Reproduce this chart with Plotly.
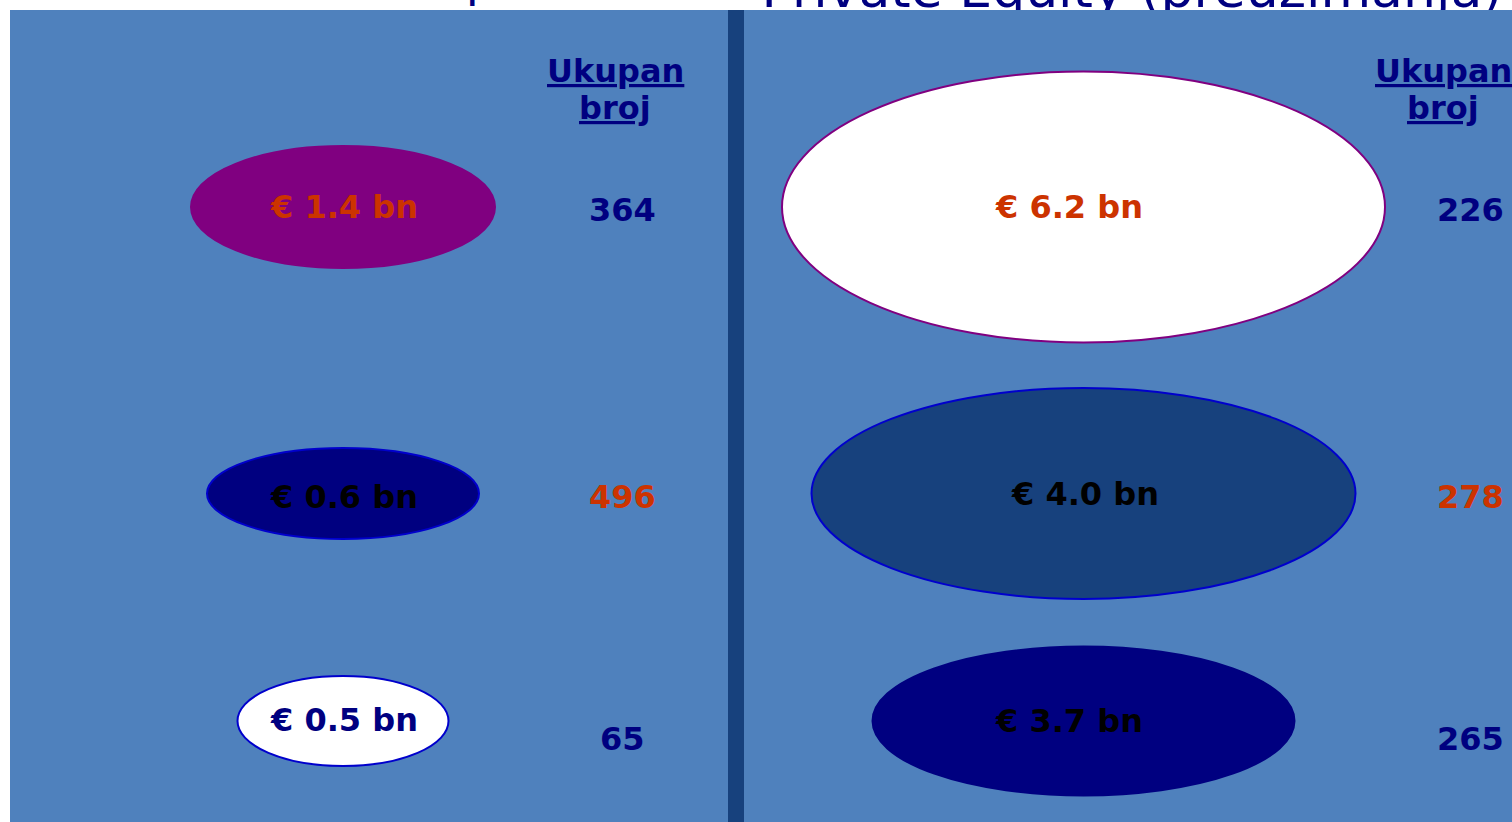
import plotly.graph_objects as go

# Transaction value (EUR bn) and number of deals, three groups from top to bottom
vc_value_bn = [1.4, 0.6, 0.5]
pe_value_bn = [6.2, 4.0, 3.7]
vc_deals = [364, 496, 65]
pe_deals = [226, 278, 265]
panel_titles = ["Venture Capital", "Private Equity (preuzimanja)"]
count_header = ["Ukupan", "broj"]

# ---- layout (page pixel units) ----
W, H = 1512, 822
BG_BLUE = "#4F81BD"
DARK_BLUE = "#17417D"
NAVY = "#000080"
ORANGE = "#CC3300"
PURPLE = "#800080"
BRIGHT_BLUE = "#0000CC"
FONT = "DejaVu Sans"

row_y = [207, 493.5, 721]
panel_cx = [343, 1083.5]
ell_w = [[304, 272, 211], [603, 544, 422]]
ell_h = [[122, 91, 90], [271, 211, 149]]
ell_fill = [[PURPLE, NAVY, "white"], ["white", DARK_BLUE, NAVY]]
ell_line = [[PURPLE, BRIGHT_BLUE, BRIGHT_BLUE], [PURPLE, BRIGHT_BLUE, NAVY]]
label_x = [[344, 344, 344], [1069, 1085, 1069]]
label_y = [[207, 497, 720], [207, 494, 721]]
label_color = [[ORANGE, "black", NAVY], [ORANGE, "black", "black"]]
count_x = [622, 1470]
count_y = [210, 497, 739]
count_color = [[NAVY, ORANGE, NAVY], [NAVY, ORANGE, NAVY]]
header_x = [615, 1443]
header_line_y = [71, 108]
title_x = [386, 1132]
title_y = [8, 20]
title_size = [48, 52]

values = [vc_value_bn, pe_value_bn]
deals = [vc_deals, pe_deals]

fig = go.Figure()

# Panel titles sit above the blue area; the blue band is drawn over them
for t in range(2):
    fig.add_trace(go.Scatter(
        x=[title_x[t]], y=[title_y[t]], mode="text", text=[panel_titles[t]],
        textposition="top center", cliponaxis=False, hoverinfo="skip",
        textfont=dict(family=FONT, size=title_size[t], color=NAVY),
        showlegend=False,
    ))

shapes = [
    dict(type="rect", xref="x", yref="y", x0=10, x1=W, y0=10, y1=H,
         fillcolor=BG_BLUE, line=dict(width=0), layer="above"),
    dict(type="rect", xref="x", yref="y", x0=728, x1=744, y0=10, y1=H,
         fillcolor=DARK_BLUE, line=dict(width=0), layer="above"),
]
annotations = []

for p in range(2):
    for r in range(3):
        cx, cy = panel_cx[p], row_y[r]
        w, h = ell_w[p][r], ell_h[p][r]
        shapes.append(dict(
            type="circle", xref="x", yref="y",
            x0=cx - w / 2, x1=cx + w / 2, y0=cy - h / 2, y1=cy + h / 2,
            fillcolor=ell_fill[p][r], line=dict(color=ell_line[p][r], width=2),
            layer="above",
        ))
        annotations.append(dict(
            x=label_x[p][r], y=label_y[p][r], xref="x", yref="y",
            text=f"<b>€ {values[p][r]:.1f} bn</b>", showarrow=False,
            xanchor="center", yanchor="middle",
            font=dict(family=FONT, size=32, color=label_color[p][r]),
        ))
        annotations.append(dict(
            x=count_x[p], y=count_y[r], xref="x", yref="y",
            text=f"<b>{deals[p][r]}</b>", showarrow=False,
            xanchor="center", yanchor="middle",
            font=dict(family=FONT, size=32, color=count_color[p][r]),
        ))
    for word, hy in zip(count_header, header_line_y):
        annotations.append(dict(
            x=header_x[p], y=hy, xref="x", yref="y",
            text=f"<b><u>{word}</u></b>",
            showarrow=False, xanchor="center", yanchor="middle",
            font=dict(family=FONT, size=32, color=NAVY),
        ))

fig.update_layout(
    width=W, height=H,
    margin=dict(l=0, r=0, t=0, b=0),
    paper_bgcolor="white", plot_bgcolor="white",
    xaxis=dict(range=[0, W], visible=False, fixedrange=True),
    yaxis=dict(range=[H, 0], visible=False, fixedrange=True),
    shapes=shapes, annotations=annotations,
    showlegend=False,
)

fig.write_html("out.html")
